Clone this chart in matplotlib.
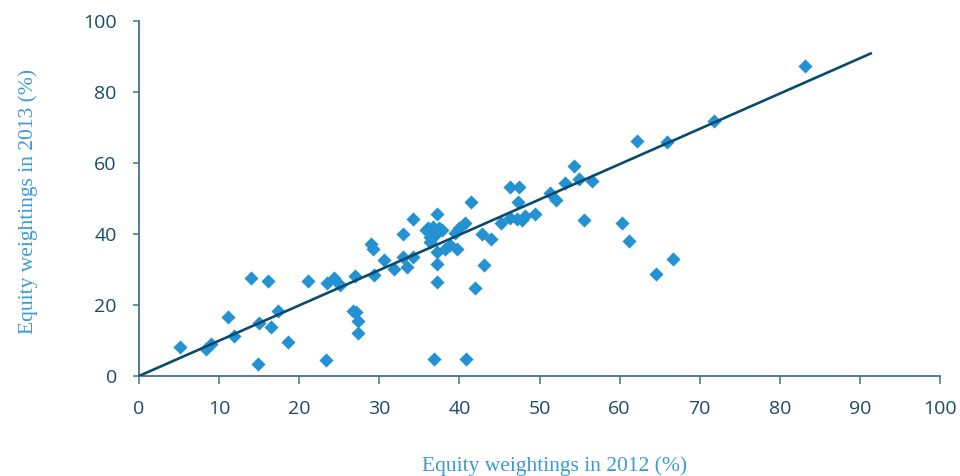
"""Equity weightings: 2012 vs 2013 scatter with reference line."""
import matplotlib
matplotlib.use("Agg")
import matplotlib.pyplot as plt
import numpy as np

# equity weightings per fund (%)
w2012 = [5.1, 8.4, 9.0, 11.1, 11.9, 14.0, 14.9, 15.0, 16.1, 16.5,
         17.4, 18.6, 21.1, 23.4, 23.5, 24.3, 25.1, 26.7, 27.0, 27.1,
         27.4, 27.3, 28.9, 29.2, 29.3, 30.6, 31.8, 32.9, 32.9, 33.5,
         34.2, 34.2, 35.8, 36.1, 36.7, 37.4, 37.8, 36.3, 37.0, 36.3,
         37.2, 38.2, 38.8, 39.7, 37.2, 39.5, 39.9, 40.7, 41.4, 42.8,
         43.9, 37.2, 43.1, 37.2, 41.9, 36.8, 40.8, 45.2, 46.3, 47.2,
         47.8, 48.2, 49.4, 46.3, 47.4, 47.3, 51.3, 52.1, 53.2, 54.3,
         54.9, 56.6, 55.6, 60.3, 61.2, 62.2, 64.5, 65.9, 66.7, 71.8,
         83.1]
w2013 = [8.3, 7.5, 8.9, 16.5, 11.4, 27.7, 3.4, 14.8, 26.8, 13.9,
         18.2, 9.6, 26.7, 4.5, 26.2, 27.6, 25.6, 18.3, 28.3, 18.1,
         15.6, 12.0, 37.2, 35.8, 28.5, 32.7, 30.2, 40.0, 33.6, 30.6,
         33.6, 44.2, 41.1, 41.6, 42.1, 41.6, 41.1, 39.2, 39.7, 37.8,
         45.5, 35.9, 36.9, 35.7, 35.0, 40.2, 41.6, 43.0, 48.9, 40.0,
         38.5, 31.5, 31.3, 26.4, 24.9, 4.7, 4.7, 43.0, 44.4, 44.1,
         43.9, 45.1, 45.6, 53.1, 53.3, 49.1, 51.5, 49.6, 54.3, 59.2,
         55.6, 55.0, 44.0, 43.2, 38.1, 66.2, 28.6, 66.0, 33.0, 71.8,
         87.4]

# reference line end points
line_x = [0, 91.5]
line_y = [0, 91.0]

x_ticks = np.arange(0, 101, 10)
y_ticks = np.arange(0, 101, 20)

DOT = "#2391d2"
LINE = "#0b4a6f"
AXIS = "#45708f"
TICKTXT = "#1b4b6a"
LABEL = "#3a9bd5"

fig = plt.figure(figsize=(9.6, 4.76), dpi=100)
ax = fig.add_axes([0.1448, 0.2101, 0.8344, 0.7458])

ax.scatter(w2012, w2013, marker="D", s=7.2 ** 2, color=DOT, linewidths=0,
           zorder=2, clip_on=False)
ax.plot(line_x, line_y, color=LINE, linewidth=1.9, zorder=3,
        solid_capstyle="butt")

ax.set_xlim(0, 100)
ax.set_ylim(0, 100)
ax.set_xticks(x_ticks)
ax.set_yticks(y_ticks)

for s in ["top", "right"]:
    ax.spines[s].set_visible(False)
for s in ["left", "bottom"]:
    ax.spines[s].set_color(AXIS)
    ax.spines[s].set_linewidth(1.3)

ax.tick_params(axis="x", direction="out", length=6, width=1.1, color=AXIS,
               pad=11, labelsize=14, labelcolor=TICKTXT)
ax.tick_params(axis="y", direction="out", length=4, width=1.1, color=AXIS,
               pad=12, labelsize=14, labelcolor=TICKTXT)
for lab in ax.get_xticklabels() + ax.get_yticklabels():
    lab.set_fontfamily("Open Sans")

fig.text(555 / 960, 1 - 466 / 476, "Equity weightings in 2012 (%)",
         ha="center", va="center", fontsize=15.5, color=LABEL,
         family="Liberation Serif")
fig.text(28 / 960, 1 - 201 / 476, "Equity weightings in 2013 (%)",
         ha="center", va="center", rotation=90, fontsize=15.5, color=LABEL,
         family="Liberation Serif")

fig.savefig("out.png", dpi=100, facecolor="white")
